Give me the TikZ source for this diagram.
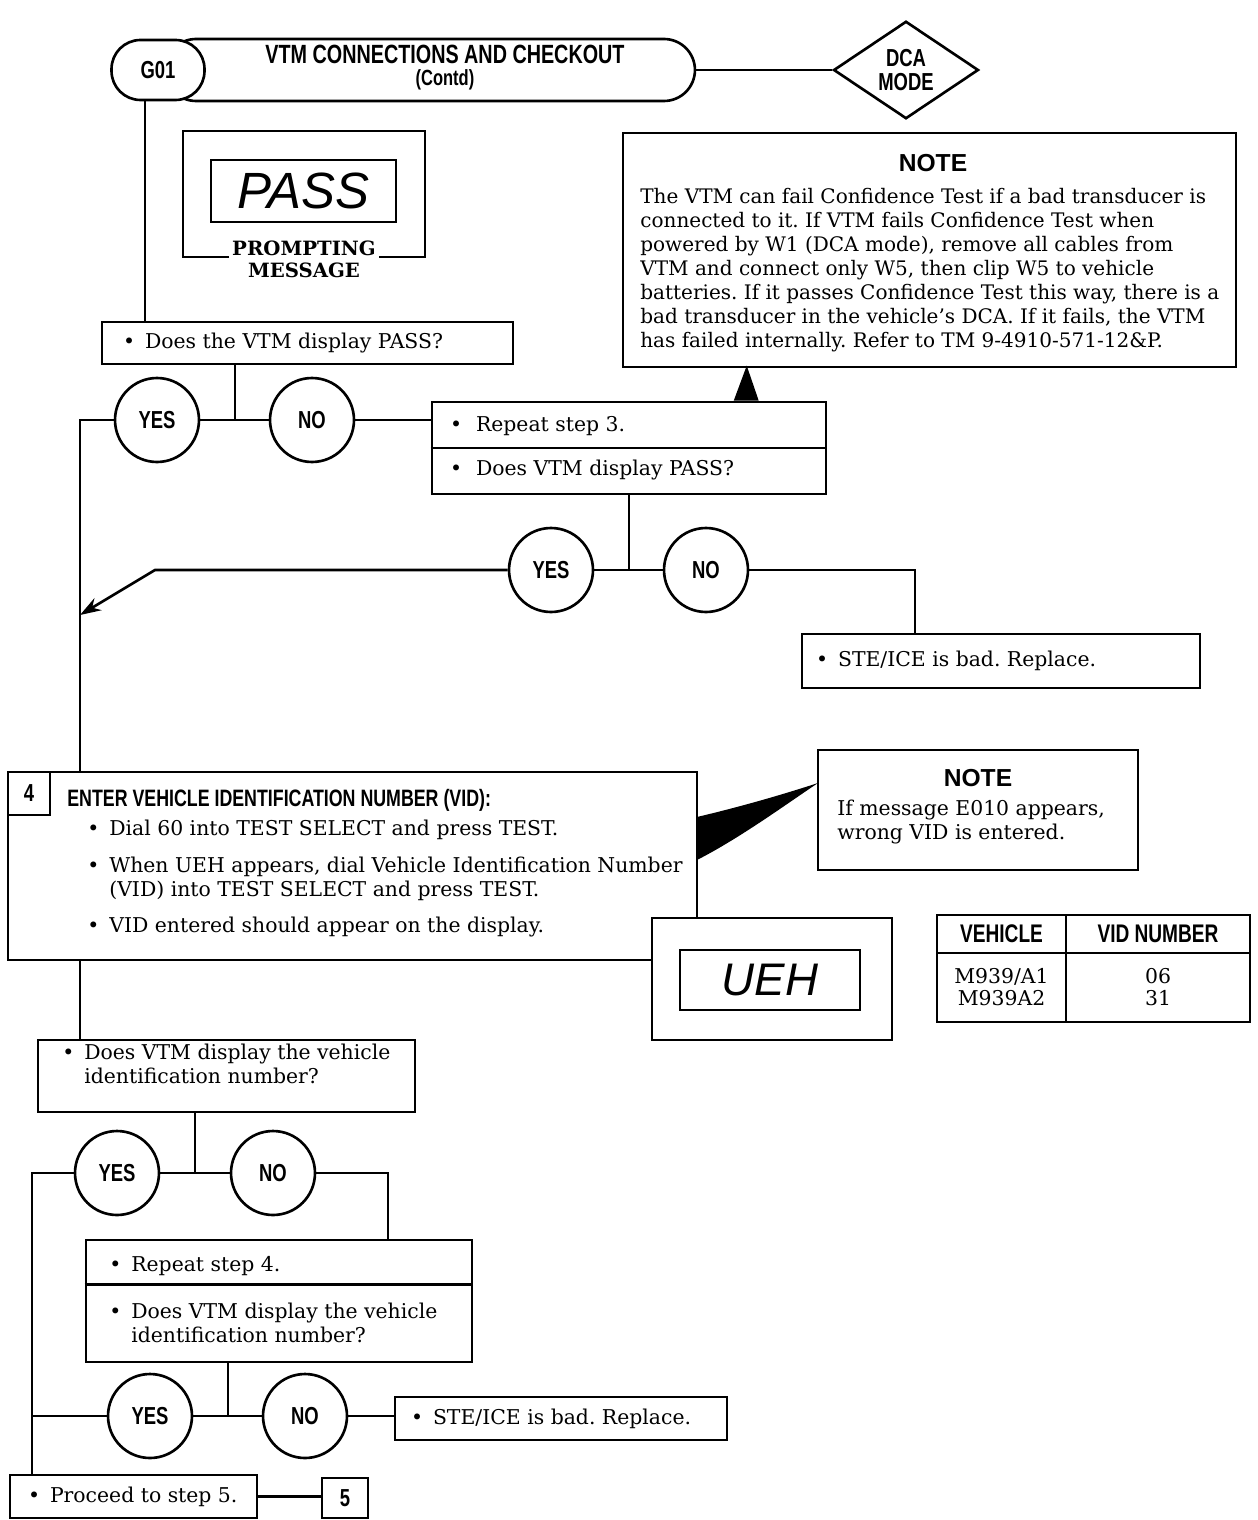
\documentclass[tikz,border=0pt]{standalone}
\usepackage{fontspec}
\setmainfont{DejaVu Serif}
\newfontfamily\hd{Liberation Sans}[FakeStretch=0.75]
\newfontfamily\hdw{Liberation Sans}
\newfontfamily\segf{Liberation Sans}
\usetikzlibrary{shapes.geometric,arrows.meta,calc}
\tikzset{
  box/.style={draw, fill=white, line width=1.5pt, inner sep=0pt},
  yn/.style={draw, fill=white, circle, line width=1.5pt, minimum size=1.68cm, inner sep=0pt, font=\hd\bfseries\fontsize{14}{14}\selectfont},
  txt/.style={anchor=west, inner sep=0pt, align=left, font=\fontsize{11.6}{13.7}\selectfont},
  hdt/.style={inner sep=0pt, font=\hd\bfseries\fontsize{14}{14}\selectfont},
}
\newcommand\bl{\makebox[0.44cm][l]{\textbullet}}
\frenchspacing
\begin{document}
\begin{tikzpicture}[x=0.02cm,y=-0.02cm,line width=1.5pt]
\useasboundingbox (0,0) rectangle (1257,1520);

% ---------- header
\node[box, rounded corners=0.62cm, minimum width=10.6cm, minimum height=1.24cm] (banner) at (430,70) {};
\node[inner sep=0pt, align=center, font=\hd\bfseries\fontsize{15}{12.5}\selectfont] (title) at (445,68) {VTM CONNECTIONS AND CHECKOUT\\{\fontsize{12.5}{12.5}\selectfont (Contd)}};
\node[box, rounded corners=0.58cm, minimum width=1.86cm, minimum height=1.2cm, hdt] (g01) at (158,70) {G01};
\node[box, diamond, minimum width=2.9cm, minimum height=1.95cm, align=center, hdt] (dca) at (906,70) {DCA\\MODE};

% ---------- prompting message display
\node[box, minimum width=3.7cm, minimum height=1.24cm, font=\segf\itshape\fontsize{29}{29}\selectfont] (pass) at (303.5,191) {PASS};
\node[inner sep=0pt, align=center, font=\bfseries\fontsize{11.2}{12.5}\selectfont] (prompt) at (304,259) {PROMPTING\\MESSAGE};
\draw (229,257) -- (183,257) -- (183,131) -- (425,131) -- (425,257) -- (379,257);

% ---------- note 1
\node[box, minimum width=12.26cm, minimum height=4.68cm] (note1) at (929.5,250) {};
\node[inner sep=0pt, font=\hdw\bfseries\fontsize{14}{14}\selectfont] (note1h) at (933,163) {NOTE};
\node[anchor=north west, inner sep=0pt, align=left, font=\fontsize{11.4}{13.7}\selectfont] (note1t) at (639,187) {The VTM can fail Confidence Test if a bad transducer is\\connected to it. If VTM fails Confidence Test when\\powered by W1 (DCA mode), remove all cables from\\VTM and connect only W5, then clip W5 to vehicle\\batteries. If it passes Confidence Test this way, there is a\\bad transducer in the vehicle’s DCA. If it fails, the VTM\\has failed internally. Refer to TM 9-4910-571-12\&P.};

% ---------- question 1
\node[box, minimum width=8.22cm, minimum height=0.84cm] (q1) at (307.5,343) {};
\node[txt] (q1t) at ($(q1.west)+(21,0)$) {\bl Does the VTM display PASS?};
\node[yn] (yes1) at (157,420) {YES};
\node[yn] (no1) at (312,420) {NO};
\coordinate (j1) at (235,420);
\coordinate (L1) at (80,420);

% ---------- repeat step 3
\node[box, minimum width=7.88cm, minimum height=1.84cm] (rep3) at (629,448) {};
\draw (rep3.west) -- (rep3.east);
\node[txt] (rep3a) at ($(rep3.west)+(18,-22)$) {\makebox[0.52cm][l]{\textbullet}Repeat step 3.};
\node[txt] (rep3b) at ($(rep3.west)+(18,22)$) {\makebox[0.52cm][l]{\textbullet}Does VTM display PASS?};
\fill ($(rep3.north west)+(303,0)$) -- ($(rep3.north west)+(316,-35)$) -- ($(rep3.north west)+(328,0)$) -- cycle;

\node[yn] (yes2) at (551,570) {YES};
\node[yn] (no2) at (706,570) {NO};
\coordinate (j2) at (629,570);
\coordinate (bend) at (155,570);
\coordinate (arrtip) at (80,615);
\coordinate (c2) at (915,570);
\node[box, minimum width=7.96cm, minimum height=1.08cm] (ste1) at (1001,661) {};
\node[txt] (ste1t) at ($(ste1.west)+(14,0)$) {\bl STE/ICE is bad. Replace.};

% ---------- step 4
\node[box, minimum width=13.78cm, minimum height=3.76cm] (step4) at (352.5,866) {};
\node[box, anchor=north west, minimum width=0.84cm, minimum height=0.86cm, hdt] (n4) at (step4.north west) {4};
\node[txt, font=\hd\bfseries\fontsize{13.5}{14}\selectfont] (s4h) at (66,800) {ENTER VEHICLE IDENTIFICATION NUMBER (VID):};
\node[txt] (s4a) at (86,830) {\bl Dial 60 into TEST SELECT and press TEST.};
\node[txt] (s4b) at (86,879) {\bl When UEH appears, dial Vehicle Identification Number\\\hspace*{0.44cm}(VID) into TEST SELECT and press TEST.};
\node[txt] (s4c) at (86,927) {\bl VID entered should appear on the display.};

% ---------- note 2
\node[box, minimum width=6.4cm, minimum height=2.4cm] (note2) at (978,810) {};
\node[inner sep=0pt, font=\hdw\bfseries\fontsize{14}{14}\selectfont] (note2h) at (978,778) {NOTE};
\node[txt] (note2t) at (836,822) {If message E010 appears,\\wrong VID is entered.};
\fill (818,783) .. controls (775,797) and (735,808) .. (697,817) -- (697,860) .. controls (740,838) and (785,805) .. (818,783) -- cycle;

% ---------- UEH display
\node[box, minimum width=4.8cm, minimum height=2.44cm] (uehout) at (772,979) {};
\node[box, minimum width=3.6cm, minimum height=1.2cm, font=\segf\itshape\fontsize{26}{26}\selectfont] (ueh) at (770,980) {UEH};

% ---------- VID table
\node[box, minimum width=2.58cm, minimum height=0.76cm, font=\hd\bfseries\fontsize{14.5}{14}\selectfont] (tvh) at (1001.5,934) {VEHICLE};
\node[box, minimum width=3.68cm, minimum height=0.76cm, font=\hd\bfseries\fontsize{14.5}{14}\selectfont] (tvn) at (1158,934) {VID NUMBER};
\node[box, minimum width=2.58cm, minimum height=1.38cm, align=center, font=\fontsize{11.6}{12.5}\selectfont] (tv1) at (1001.5,987.5) {M939/A1\\M939A2};
\node[box, minimum width=3.68cm, minimum height=1.38cm, align=center, font=\fontsize{11.6}{12.5}\selectfont] (tv2) at (1158,987.5) {06\\31};

% ---------- question 2
\node[box, minimum width=7.54cm, minimum height=1.44cm] (q2) at (226.5,1076) {};
\node[txt] (q2t) at (61,1064) {\bl Does VTM display the vehicle\\\hspace*{0.44cm}identification number?};
\node[yn] (yes3) at (117,1173) {YES};
\node[yn] (no3) at (273,1173) {NO};
\coordinate (j3) at (195,1173);
\coordinate (L2) at (32,1173);
\coordinate (c3) at (388,1173);

% ---------- repeat step 4
\node[box, minimum width=7.72cm, minimum height=2.44cm] (rep4) at (279,1301) {};
\draw ($(rep4.north west)+(0,46)$) -- ($(rep4.north east)+(0,46)$);
\node[txt] (rep4a) at (108,1266) {\bl Repeat step 4.};
\node[txt] (rep4b) at (108,1323) {\bl Does VTM display the vehicle\\\hspace*{0.44cm}identification number?};
\node[yn] (yes4) at (150,1416) {YES};
\node[yn] (no4) at (305,1416) {NO};
\coordinate (j4) at (228,1416);
\node[box, minimum width=6.64cm, minimum height=0.86cm] (ste2) at (561,1418.5) {};
\node[txt] (ste2t) at ($(ste2.west)+(16,0)$) {\bl STE/ICE is bad. Replace.};
\node[box, minimum width=4.94cm, minimum height=0.86cm] (proc) at (133.5,1496.5) {};
\node[txt] (proct) at ($(proc.west)+(18,0)$) {\bl Proceed to step 5.};
\node[box, minimum width=0.92cm, minimum height=0.8cm, hdt] (five) at (345,1498) {5};

% ---------- connectors
\coordinate (g01b) at (145,100);
\draw (g01b) -- (g01b |- q1.north);
\draw (banner.east) -- (dca.west);
\draw (j1 |- q1.south) -- (j1);
\draw (yes1.east) -- (no1.west);
\draw (no1.east) -- (no1.east -| rep3.west);
\draw (yes1.west) -- (L1) -- (L1 |- step4.north);
\draw (rep3.south) -- (j2);
\draw (yes2.east) -- (no2.west);
\draw[-{Stealth[length=0.42cm,width=0.28cm]}] (yes2.west) -- (bend) -- (arrtip);
\draw (no2.east) -- (c2) -- (c2 |- ste1.north);
\draw (step4.south -| L1) -- (q2.north -| L1);
\draw (j3 |- q2.south) -- (j3);
\draw (yes3.east) -- (no3.west);
\draw (yes3.west) -- (L2) -- (L2 |- proc.north);
\draw (no3.east) -- (c3) -- (c3 |- rep4.north);
\draw (j4 |- rep4.south) -- (j4);
\draw (yes4.east) -- (no4.west);
\draw (yes4.west) -- (yes4.west -| L2);
\draw (no4.east) -- (no4.east -| ste2.west);
\draw (proc.east) -- (proc.east -| five.west);
\end{tikzpicture}
\end{document}
